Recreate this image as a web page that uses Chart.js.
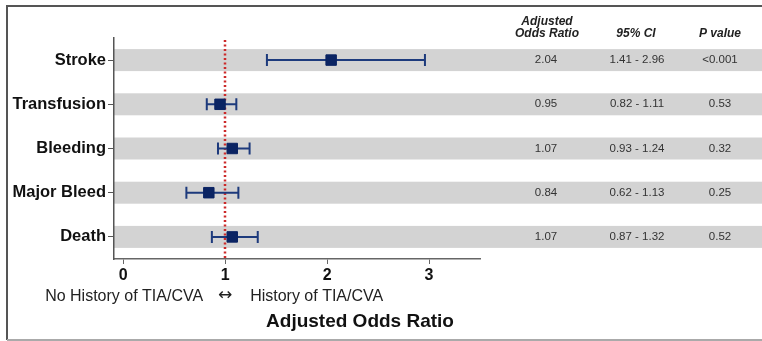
<!DOCTYPE html>
<html>
<head>
<meta charset="utf-8">
<style>
  html, body { margin: 0; padding: 0; background: #fff; }
  canvas { display: block; }
</style>
<script src="https://cdn.jsdelivr.net/npm/chart.js@4/dist/chart.umd.min.js"></script>
</head>
<body>
<canvas id="forest" width="762" height="341"></canvas>
<script>
// outcomes, top to bottom
var outcomes = ["Stroke", "Transfusion", "Bleeding", "Major Bleed", "Death"];
var oddsRatio = [2.04, 0.95, 1.07, 0.84, 1.07];
var ciLow = [1.41, 0.82, 0.93, 0.62, 0.87];
var ciHigh = [2.96, 1.11, 1.24, 1.13, 1.32];
var pValues = ["<0.001", "0.53", "0.32", "0.25", "0.52"];
var xTicks = [0, 1, 2, 3];
var refLine = 1;

var FONT = "'Liberation Sans', Arial, sans-serif";

var forestPlugin = {
  id: "forest",
  beforeDraw: function(chart) {
    var ctx = chart.ctx, area = chart.chartArea, y = chart.scales.y;
    ctx.save();
    // gray row bands, run across to the table
    ctx.fillStyle = "#d3d3d3";
    for (var i = 0; i < outcomes.length; i++) {
      var yc = y.getPixelForValue(i);
      ctx.fillRect(area.left, yc - 11, chart.width - area.left, 22);
    }
    // frame
    ctx.strokeStyle = "#555";
    ctx.lineWidth = 2;
    ctx.beginPath();
    ctx.moveTo(7, 340);
    ctx.lineTo(7, 6);
    ctx.lineTo(chart.width, 6);
    ctx.stroke();
    ctx.strokeStyle = "#aaa";
    ctx.beginPath();
    ctx.moveTo(7, 340);
    ctx.lineTo(chart.width, 340);
    ctx.stroke();
    ctx.restore();
  },
  beforeDatasetsDraw: function(chart) {
    var ctx = chart.ctx, area = chart.chartArea, x = chart.scales.x, y = chart.scales.y;
    ctx.save();
    // dotted reference line at OR = 1
    var xr = Math.round(x.getPixelForValue(refLine));
    ctx.strokeStyle = "#cc2a2a";
    ctx.lineWidth = 2.5;
    ctx.setLineDash([2, 2.5]);
    ctx.beginPath();
    ctx.moveTo(xr, area.top + 2);
    ctx.lineTo(xr, area.bottom);
    ctx.stroke();
    ctx.setLineDash([]);
    // confidence intervals
    ctx.strokeStyle = "#1d3a7c";
    ctx.lineWidth = 2;
    for (var i = 0; i < outcomes.length; i++) {
      var yc = y.getPixelForValue(i);
      var x0 = x.getPixelForValue(ciLow[i]);
      var x1 = x.getPixelForValue(ciHigh[i]);
      ctx.beginPath();
      ctx.moveTo(x0, yc); ctx.lineTo(x1, yc);
      ctx.moveTo(x0, yc - 6); ctx.lineTo(x0, yc + 6);
      ctx.moveTo(x1, yc - 6); ctx.lineTo(x1, yc + 6);
      ctx.stroke();
    }
    ctx.restore();
  },
  afterDraw: function(chart) {
    var ctx = chart.ctx, x = chart.scales.x, y = chart.scales.y;
    ctx.save();
    ctx.textAlign = "center";
    ctx.textBaseline = "middle";
    // table header
    ctx.fillStyle = "#222";
    ctx.font = "italic bold 12px " + FONT;
    ctx.fillText("Adjusted", 547, 22);
    ctx.fillText("Odds Ratio", 547, 34);
    ctx.fillText("95% CI", 636, 34);
    ctx.fillText("P value", 720, 34);
    // table values
    ctx.fillStyle = "#333";
    ctx.font = "11.5px " + FONT;
    for (var i = 0; i < outcomes.length; i++) {
      var yc = y.getPixelForValue(i);
      ctx.fillText(oddsRatio[i].toFixed(2), 546, yc);
      ctx.fillText(ciLow[i].toFixed(2) + " - " + ciHigh[i].toFixed(2), 637, yc);
      ctx.fillText(pValues[i], 720, yc);
    }
    // direction labels under the axis
    var xr = x.getPixelForValue(refLine);
    ctx.fillStyle = "#222";
    ctx.font = "16px " + FONT;
    ctx.textAlign = "right";
    ctx.fillText("No History of TIA/CVA", xr - 22, 297);
    ctx.textAlign = "left";
    ctx.fillText("History of TIA/CVA", xr + 25, 297);
    ctx.textAlign = "center";
    ctx.font = "17px 'DejaVu Sans', " + FONT;
    ctx.fillText("\u2194", xr, 296);
    // axis title
    ctx.fillStyle = "#111";
    ctx.font = "bold 19px " + FONT;
    ctx.fillText("Adjusted Odds Ratio", 360, 322);
    ctx.restore();
  }
};

var ctx = document.getElementById("forest").getContext("2d");
var chart = new Chart(ctx, {
  type: "scatter",
  data: {
    datasets: [{
      data: outcomes.map(function(o, i) { return { x: oddsRatio[i], y: o }; }),
      pointStyle: "rect",
      pointRadius: 7.4,
      pointBackgroundColor: "#0b2463",
      pointBorderColor: "#0b2463",
      pointBorderWidth: 1
    }]
  },
  options: {
    responsive: false,
    animation: false,
    devicePixelRatio: 1,
    events: [],
    layout: { padding: { top: 38, right: 282, left: 0, bottom: 0 } },
    plugins: { legend: { display: false }, tooltip: { enabled: false } },
    scales: {
      x: {
        type: "linear",
        min: -0.09,
        max: 3.5,
        border: { color: "#666", width: 1.5 },
        grid: { drawOnChartArea: false, tickLength: 5, color: "#666" },
        ticks: { font: { family: FONT, size: 16, weight: "bold" }, color: "#111", padding: 2 },
        afterBuildTicks: function(s) { s.ticks = xTicks.map(function(v) { return { value: v }; }); },
        afterFit: function(s) { s.height = 82; }
      },
      y: {
        type: "category",
        labels: outcomes,
        offset: true,
        border: { color: "#555", width: 1.5 },
        grid: { offset: false, drawOnChartArea: false, tickLength: 6, color: "#555" },
        ticks: { font: { family: FONT, size: 16.5, weight: "bold" }, color: "#111", padding: 2 },
        afterFit: function(s) { s.width = 114; }
      }
    }
  },
  plugins: [forestPlugin]
});
</script>
</body>
</html>
